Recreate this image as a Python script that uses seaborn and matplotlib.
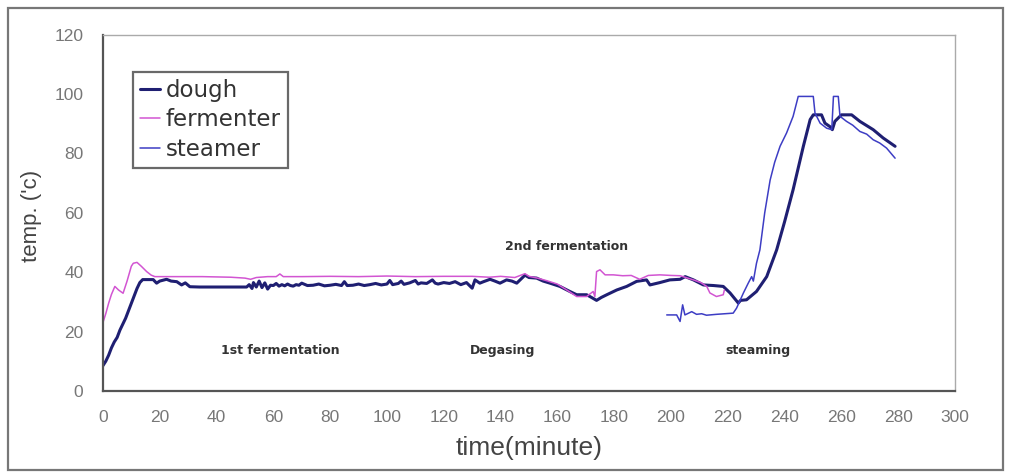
import matplotlib
matplotlib.use("Agg")
import matplotlib.pyplot as plt
from matplotlib import font_manager
from matplotlib.patches import Rectangle
import pandas as pd
import seaborn as sns

# Temperature log of steamed bread processing (minutes, degrees C)
dough_time = [
    0, 1, 2, 3, 4, 5, 6, 7, 8, 9, 10, 11, 12, 13, 14,
    16, 17.7, 18.9, 20, 22.4, 24, 26, 27.7, 29, 30.6, 34, 40, 46, 50.6,
    51.5, 52.5, 53, 54, 55, 56, 57, 58, 59, 60,
    61, 62, 63, 64, 65, 66, 67, 68, 69, 70,
    72, 74, 76, 78, 80, 82, 84, 85, 86, 88,
    90, 92, 94, 96, 98, 100, 101, 102, 104, 105,
    106, 108, 110, 111, 112, 114, 116, 117, 118, 120,
    122, 124, 126, 128, 130, 131, 132.7,
    134, 136.3, 138, 139.8, 142.1, 144, 145.7, 148.6, 150, 152.7,
    155, 157.4, 160.9, 164.4, 166.8, 170.3, 172, 173.8, 175.5, 177.4,
    180.9, 184.4, 187.9, 191.4, 192.6, 196.1, 199.6, 203.2, 205, 207.9,
    211.4, 215, 218.4, 220.8, 222.5, 223.7, 224.5, 226.6, 230.1, 233.7,
    237.2, 240, 243, 246.6, 249, 250.1, 253, 254.2, 256, 256.8,
    257.7, 260, 263.6, 266.5, 271.2, 274.7, 278.9,
]
dough_temp = [
    8.5, 10, 12, 14.5, 16.5, 18, 20.5, 22.5, 24.5, 27, 29.5, 32, 34.5, 36.5, 37.5,
    37.5, 37.5, 36.3, 37, 37.6, 37, 36.8, 35.7, 36.4, 35.1, 35, 35, 35, 35,
    35.8, 34.5, 36.5, 35, 37, 34.8, 36.4, 34.3, 35.6, 35.5,
    36.2, 35.3, 35.8, 35.4, 36, 35.5, 35.3, 35.8, 35.6, 36.3,
    35.5, 35.6, 36, 35.4, 35.6, 35.9, 35.5, 36.8, 35.5, 35.6,
    36, 35.5, 35.8, 36.2, 35.7, 36, 37.2, 35.8, 36.2, 37,
    35.9, 36.4, 37.2, 36, 36.4, 36.2, 37.4, 36.3, 36, 36.5,
    36.2, 36.8, 35.8, 36.5, 34.6, 37.4, 36.3,
    36.8, 37.6, 37, 36.3, 37.4, 37, 36.3, 39, 38.2, 38,
    37, 36.3, 35.2, 33.5, 32.4, 32.4, 31.5, 30.5, 31.5, 32.4,
    34, 35.2, 36.9, 37.4, 35.7, 36.5, 37.4, 37.6, 38.5, 37.4,
    35.7, 35.5, 35.2, 33, 31, 29.6, 30.5, 30.7, 33.5, 38.5,
    47.5, 57, 67.8, 82.4, 91.4, 93, 93, 90.2, 89, 88,
    90.8, 93, 93, 90.8, 88, 85.2, 82.4,
]

fermenter_time = [
    0, 1, 2, 3, 4.2, 5.5, 7.1, 8.5, 10, 10.7,
    12, 13.5, 15.4, 17, 18.3, 25, 35, 45, 50, 52,
    54, 58, 61, 62.3, 63.5, 70, 80, 90, 100, 110,
    120, 130, 136, 140, 145, 148.6, 150, 153, 156, 160,
    163.3, 166.8, 170.3, 172.6, 173.2, 173.8, 175, 176.8, 179.7, 183,
    186, 189, 192, 196.1, 200, 203.2, 207.9, 210.5, 212.6, 213.7,
    216, 218.4, 218.8,
]
fermenter_temp = [
    23, 26, 29.5, 32.5, 35.2, 34, 32.9, 37, 42, 43,
    43.3, 42, 40.2, 39, 38.5, 38.5, 38.5, 38.3, 38, 37.6,
    38.2, 38.5, 38.5, 39.4, 38.5, 38.5, 38.6, 38.5, 38.7, 38.5,
    38.6, 38.6, 38.3, 38.6, 38.2, 39.5, 38.6, 38, 37.2, 36,
    34, 31.8, 31.8, 33.5, 31.8, 40.2, 40.8, 39.1, 39.1, 38.8,
    38.9, 37.6, 38.9, 39.1, 38.9, 38.8, 37.4, 36.5, 35.2, 33,
    31.8, 32.4, 34,
]

steamer_time = [
    198.5, 202, 203.2, 204.1, 204.9, 207.3, 209, 210.8, 212.5, 216,
    221.9, 223.1, 225.5, 227.2, 228.4, 229, 230.1, 231.3, 233, 234.9,
    236.5, 238.4, 240.7, 243, 244.8, 247, 250.1, 250.7, 252.5, 254.8,
    256.6, 257.2, 258.9, 259.5, 261.8, 264, 266.5, 268.9, 271.2, 273.5,
    275.9, 278.9,
]
steamer_temp = [
    25.6, 25.6, 23.4, 29, 25.6, 26.7, 25.8, 26, 25.5, 25.8,
    26.2, 27.9, 33, 36.3, 38.5, 37, 43, 47.5, 60, 71,
    77, 82.4, 86.9, 92.5, 99.2, 99.2, 99.2, 93.6, 90.2, 88.5,
    88, 99.2, 99.2, 92.5, 90.8, 89.5, 87.4, 86.5, 84.6, 83.5,
    81.8, 78.4,
]

stage_labels = ["1st fermentation", "Degasing", "2nd fermentation", "steaming"]
stage_x = [62.3, 140.8, 163.4, 230.6]
stage_y = [13.5, 13.5, 48.5, 13.5]

x_ticks = list(range(0, 301, 20))
y_ticks = list(range(0, 121, 20))

sns.set_theme(style="white")
names = {f.name for f in font_manager.fontManager.ttflist}
narrow = "Liberation Sans Narrow" if "Liberation Sans Narrow" in names else "Liberation Sans"
plt.rcParams["font.family"] = ["DejaVu Sans"]

frames = [
    pd.DataFrame({"time": dough_time, "temp": dough_temp, "probe": "dough"}),
    pd.DataFrame({"time": fermenter_time, "temp": fermenter_temp, "probe": "fermenter"}),
    pd.DataFrame({"time": steamer_time, "temp": steamer_temp, "probe": "steamer"}),
]
styles = {
    "dough": dict(color="#1f1f72", linewidth=2.2),
    "fermenter": dict(color="#d255d2", linewidth=1.1),
    "steamer": dict(color="#3d3dc4", linewidth=1.1),
}

fig = plt.figure(figsize=(10.09, 4.75), dpi=100)
ax = fig.add_axes([0.102, 0.177, 0.8445, 0.750])

for df in frames:
    name = df["probe"].iloc[0]
    sns.lineplot(data=df, x="time", y="temp", ax=ax, sort=False,
                 estimator=None, label=name, **styles[name])

for txt, xv, yv in zip(stage_labels, stage_x, stage_y):
    ax.text(xv, yv, txt, ha="center", va="center", fontsize=9,
            fontweight="bold", color="#333333", family="DejaVu Sans")

ax.set_xlim(0, 300)
ax.set_ylim(0, 120)
ax.set_xticks(x_ticks)
ax.set_yticks(y_ticks)
ax.tick_params(axis="both", direction="in", length=5, width=1,
               color="#555555", labelcolor="#777777", labelsize=12.5, pad=14)
for lab in ax.get_xticklabels() + ax.get_yticklabels():
    lab.set_family(narrow)

ax.set_xlabel("time(minute)", fontsize=19, color="#444444", family=narrow, labelpad=8)
ax.set_ylabel("temp. ('c)", fontsize=16, color="#444444", family=narrow)
ax.yaxis.set_label_coords(-0.071, 0.49)

for side in ["left", "bottom"]:
    ax.spines[side].set_color("#555555")
    ax.spines[side].set_linewidth(1.6)
for side in ["top", "right"]:
    ax.spines[side].set_color("#aaaaaa")
    ax.spines[side].set_linewidth(1.0)

leg = ax.legend(loc="upper left", bbox_to_anchor=(0.035, 0.895), borderaxespad=0,
                fancybox=False, frameon=True, fontsize=16.5, handlelength=0.9,
                handletextpad=0.25, labelspacing=0.28, borderpad=0.3)
leg.get_frame().set_edgecolor("#444444")
leg.get_frame().set_linewidth(1.6)
for t in leg.get_texts():
    t.set_color("#333333")

fig.patches.append(Rectangle((0.008, 0.010), 0.986, 0.974, transform=fig.transFigure,
                             fill=False, edgecolor="#777777", linewidth=1.6))

fig.savefig("out.png", dpi=100)
